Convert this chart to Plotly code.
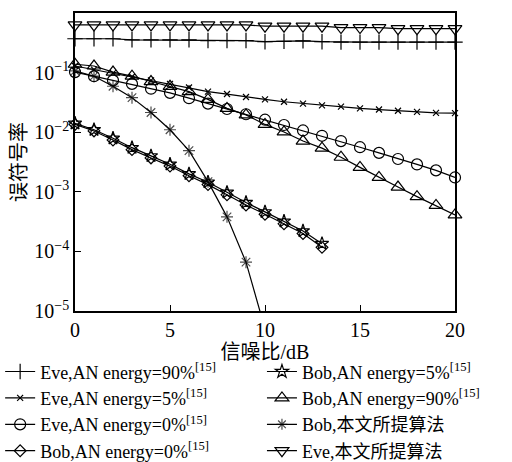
import plotly.graph_objects as go

snr_full = list(range(0, 21))
snr_bob = list(range(0, 14))
snr_prop = list(range(0, 11))

eve_an90 = [0.37, 0.37, 0.37, 0.355, 0.355, 0.355, 0.355, 0.345, 0.345, 0.345, 0.33,
            0.335, 0.34, 0.33, 0.325, 0.325, 0.325, 0.325, 0.325, 0.325, 0.325]
eve_an5 = [0.129, 0.112, 0.0977, 0.0851, 0.0741, 0.0646, 0.0562, 0.0479, 0.0437, 0.0389, 0.0355,
           0.0324, 0.0302, 0.0282, 0.0269, 0.0251, 0.0240, 0.0229, 0.0219, 0.0211, 0.0209]
eve_an0 = [0.102, 0.087, 0.074, 0.0646, 0.0537, 0.0457, 0.0372, 0.0302, 0.0245, 0.0200, 0.0162,
           0.0132, 0.0107, 0.0087, 0.0071, 0.0056, 0.0045, 0.00355, 0.00288, 0.00229, 0.00174]
bob_an0 = [0.0135, 0.0105, 0.0074, 0.0051, 0.0037, 0.0027, 0.00186, 0.00132, 0.00089, 0.0006,
           0.00042, 0.00029, 0.0002, 0.000117]
bob_an5 = [0.0141, 0.011, 0.0079, 0.0055, 0.0040, 0.0029, 0.0020, 0.00145, 0.00098, 0.00066,
           0.00046, 0.00032, 0.00022, 0.000135]
bob_an90 = [0.138, 0.129, 0.102, 0.087, 0.0708, 0.0589, 0.0479, 0.0355, 0.0251, 0.0195, 0.0135,
            0.0101, 0.0071, 0.0054, 0.0038, 0.00257, 0.00174, 0.0012, 0.00083, 0.00059, 0.00041]
bob_prop = [0.107, 0.087, 0.059, 0.038, 0.0214, 0.011, 0.0049, 0.00148, 0.00038, 0.000066, 0.000005]
eve_prop = [0.63, 0.63, 0.63, 0.63, 0.63, 0.63, 0.63, 0.63, 0.63, 0.63, 0.6,
            0.6, 0.6, 0.6, 0.57, 0.57, 0.57, 0.545, 0.545, 0.545, 0.545]

names = {
    "eve90": "Eve,AN energy=90%<sup>[15]</sup>",
    "eve5": "Eve,AN energy=5%<sup>[15]</sup>",
    "eve0": "Eve,AN energy=0%<sup>[15]</sup>",
    "bob0": "Bob,AN energy=0%<sup>[15]</sup>",
    "bob5": "Bob,AN energy=5%<sup>[15]</sup>",
    "bob90": "Bob,AN energy=90%<sup>[15]</sup>",
    "bobp": "Bob,本文所提算法",
    "evep": "Eve,本文所提算法",
}

ytickvals = [1, 0.1, 0.01, 0.001, 0.0001, 0.00001]
yticktext = ["10<sup>0</sup>", "10<sup>−1</sup>", "10<sup>−2</sup>", "10<sup>−3</sup>",
             "10<sup>−4</sup>", "10<sup>−5</sup>"]

FONT = "Liberation Serif, Times New Roman, Noto Sans CJK SC, serif"

fig = go.Figure()


def add(x, y, name, symbol, size, legend, msize=None, clip=False):
    fig.add_trace(go.Scatter(
        x=x, y=y, name=name, mode="lines+markers",
        line=dict(color="black", width=1.2),
        marker=dict(symbol=symbol, size=msize if msize is not None else size,
                    color="black", line=dict(color="black", width=1.2)),
        legend=legend, cliponaxis=clip,
    ))


add(snr_full, eve_an90, names["eve90"], "cross-thin-open", 11, "legend")
add(snr_full, eve_an5, names["eve5"], "x-thin-open", 6, "legend")
add(snr_full, eve_an0, names["eve0"], "circle-open", 11, "legend")
add(snr_bob, bob_an0, names["bob0"], "diamond-open", 9, "legend")
add(snr_bob, bob_an5, names["bob5"], "star-open", 10, "legend2")
add(snr_full, bob_an90, names["bob90"], "triangle-up-open", 12, "legend2")
add(snr_prop, bob_prop, names["bobp"], "asterisk-open", 10, "legend2",
    msize=[10] * 10 + [0])
add(snr_full, eve_prop, names["evep"], "triangle-down-open", 12, "legend2")

axis_common = dict(showline=True, linecolor="black", linewidth=1.5, mirror=True,
                   ticks="inside", ticklen=6, tickcolor="black", tickwidth=1.2,
                   showgrid=False, zeroline=False, automargin=False,
                   tickfont=dict(family=FONT, size=20, color="black"))

fig.update_xaxes(range=[0, 20], tickvals=[0, 5, 10, 15, 20],
                 title=dict(text="信噪比/dB", font=dict(family=FONT, size=20, color="black"),
                            standoff=0),
                 **axis_common)
fig.update_yaxes(type="log", range=[-5, 0], tickvals=ytickvals, ticktext=yticktext,
                 title=dict(text="误符号率", font=dict(family=FONT, size=20, color="black"),
                            standoff=2),
                 **axis_common)

legend_common = dict(font=dict(family=FONT, size=18, color="black"),
                     bgcolor="rgba(0,0,0,0)", tracegroupgap=0, itemwidth=30,
                     yanchor="top", y=-0.142, xanchor="left")

fig.update_layout(
    width=512, height=462,
    margin=dict(l=75, r=57, t=13, b=151, autoexpand=False),
    paper_bgcolor="white", plot_bgcolor="white",
    font=dict(family=FONT, color="black"),
    legend=dict(x=-0.197, **legend_common),
    legend2=dict(x=0.492, **legend_common),
    showlegend=True,
)

fig.write_html("out.html")
